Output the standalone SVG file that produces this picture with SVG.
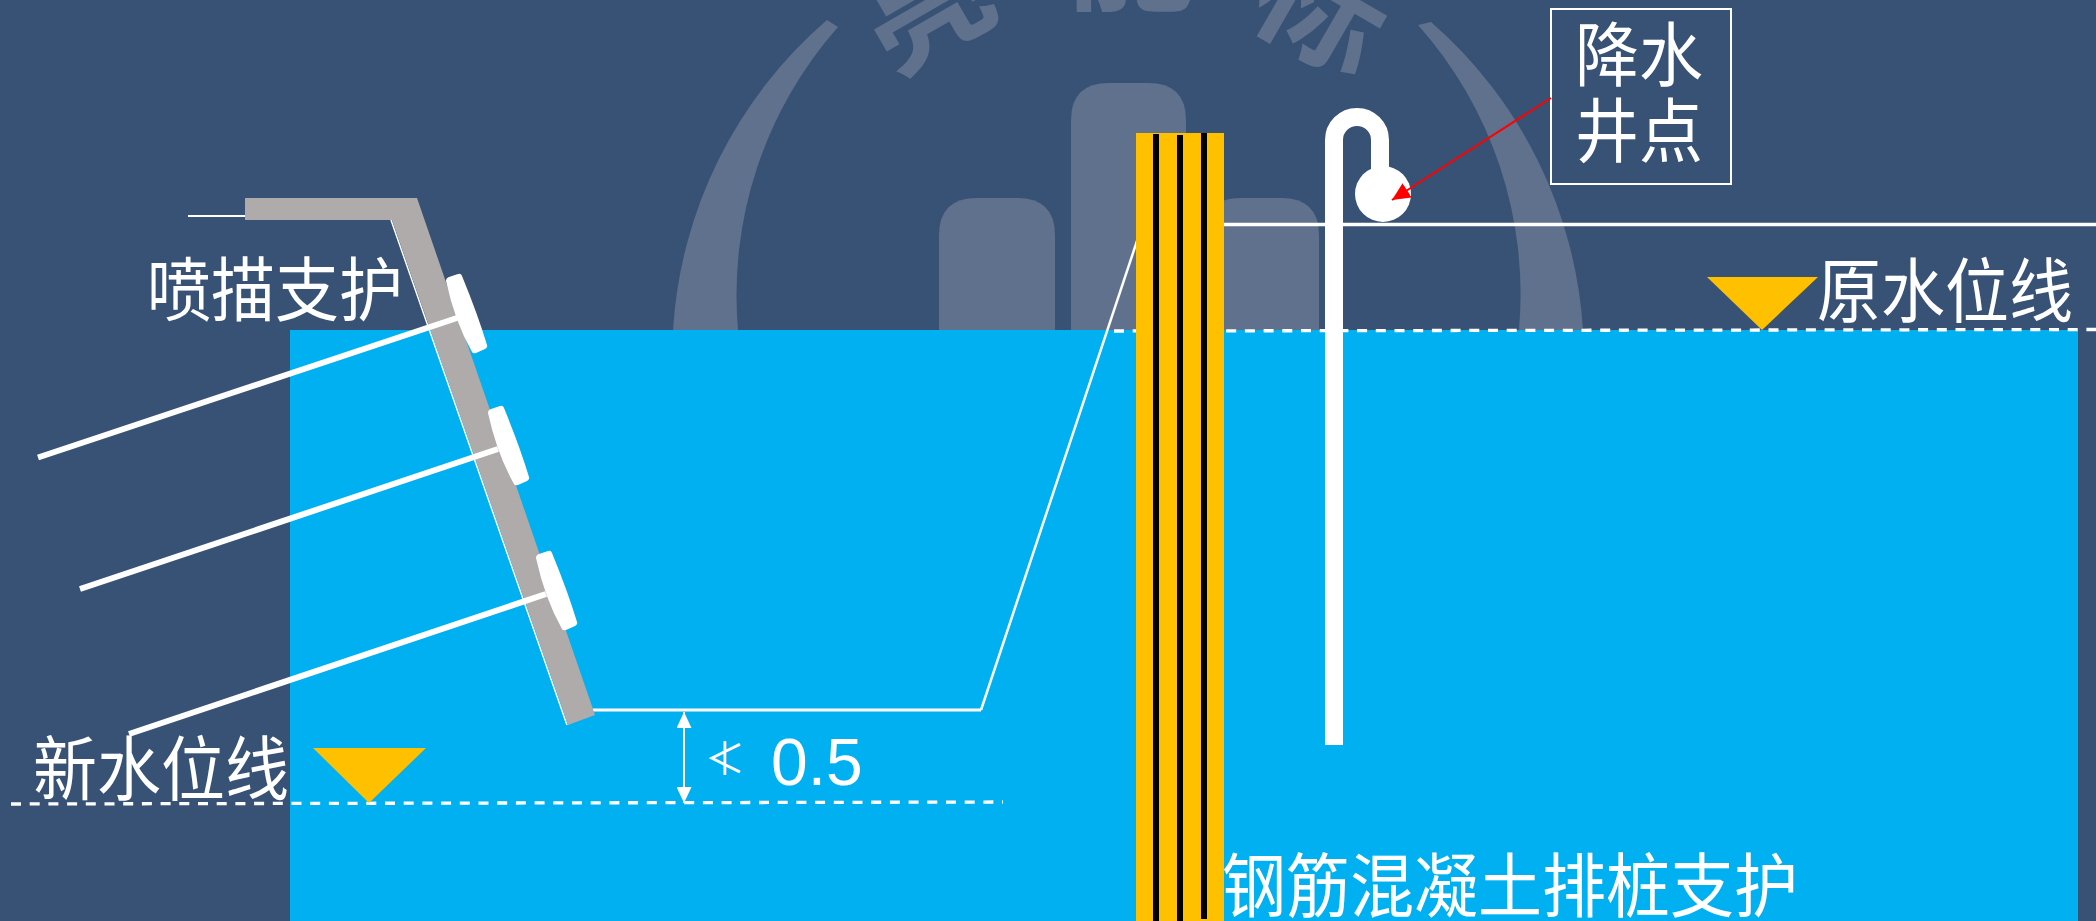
<svg xmlns="http://www.w3.org/2000/svg" width="2096" height="921" viewBox="0 0 2096 921">
<style>
.t{font-family:"Noto Sans CJK SC","Noto Sans",sans-serif;font-size:64px;fill:#fff}
.n{font-family:"Liberation Sans",Arial,sans-serif;font-size:66px;fill:#fff}
.s{font-family:"Noto Sans CJK SC",sans-serif;font-size:40px;fill:#fff}
.wm{fill:#5f718c}
.w{stroke:#fff;fill:none}
.dash{stroke:#fff;stroke-width:3.300;stroke-dasharray:10 8.700;fill:none}
.anchor{stroke:#fff;stroke-width:6;fill:none}
.plate{fill:#fff}
.wt{font-family:"Noto Sans CJK SC",sans-serif;font-size:130px;font-weight:700;fill:#5f718c}
</style>
<defs>
<marker id="dimHead" viewBox="0 0 16 15" refX="16" refY="7.500" markerWidth="16" markerHeight="15" markerUnits="userSpaceOnUse" orient="auto-start-reverse"><path d="M0 0L16 7.500L0 15Z" fill="#fff"/></marker>
<marker id="redHead" viewBox="0 0 18 17" refX="18" refY="8.500" markerWidth="18" markerHeight="17" markerUnits="userSpaceOnUse" orient="auto"><path d="M0 0L18 8.500L0 17Z" fill="#f00"/></marker>
<path id="plateShape" d="M446 281Q446 278 449 277L458 274Q461 273 462 276Q478 315 487 345Q488 347 485 349L476 353Q473 354 472 352Q455 322 446 281Z"/>
</defs>
<rect width="2096" height="921" fill="#385275"/>
<g id="watermark">
<path class="wm" d="M939 330V235Q939 198 977 198H1017Q1055 198 1055 235V330Z"/>
<path class="wm" d="M1071 330V120Q1071 83 1109 83H1148Q1186 83 1186 120V330Z"/>
<path class="wm" d="M1203 330V235Q1203 198 1241 198H1281Q1319 198 1319 235V330Z"/>
<path class="wm" d="M673 330A445 445 0 0 1 827 20L838 27A405 405 0 0 0 738 330Z"/>
<path class="wm" d="M1583 330A445 445 0 0 0 1431 22L1418 25A405 405 0 0 1 1519 330Z"/>
<text class="wt" transform="translate(892 76) rotate(-30)">亮</text>
<text class="wt" transform="translate(1065 0)">能</text>
<text class="wt" transform="translate(1243 15) rotate(30)">标</text>
</g>
<rect id="water" x="290" y="330" width="1788" height="591" fill="#00b0f0"/>
<g id="connectors">
<path class="w" stroke-width="2" d="M188 216H245"/>
<path class="w" stroke-width="1.500" d="M391 220L567 725"/>
<path class="w" stroke-width="3" d="M593 710H981"/>
<path class="w" stroke-width="2.500" d="M981 710L1138 238"/>
<path class="w" stroke-width="3.500" d="M1224 224.500H2096"/>
<path class="dash" d="M11 804L1003 802"/>
<path class="dash" d="M1114 331L2096 329.500"/>
<path class="w" stroke-width="2" d="M684 803V712" marker-start="url(#dimHead)" marker-end="url(#dimHead)"/>
</g>
<g id="shotcrete-support">
<path fill="#afabab" d="M245 198H417L595 715L568 725L392 220H245Z"/>
<use href="#plateShape" class="plate"/>
<use href="#plateShape" class="plate" x="42" y="132"/>
<use href="#plateShape" class="plate" x="90" y="277"/>
<path class="anchor" d="M38 457.500L457 318"/>
<path class="anchor" d="M80 589L498 449"/>
<path class="anchor" d="M129 734L546 594"/>
<text class="t" transform="translate(147 316) scale(1 1.100)">喷描支护</text>
</g>
<g id="pile-wall">
<rect x="1136" y="133" width="88" height="788" fill="#ffc000"/>
<rect x="1153" y="134" width="6" height="787" fill="#000"/>
<rect x="1177" y="135" width="6" height="786" fill="#000"/>
<rect x="1201" y="133" width="6" height="786" fill="#000"/>
<text class="t" transform="translate(1222 912) scale(1 1.100)">钢筋混凝土排桩支护</text>
</g>
<g id="well">
<path class="w" stroke-width="18" d="M1334 745V140A23 23 0 0 1 1380 140V172"/>
<circle cx="1383" cy="194" r="28" fill="#fff"/>
</g>
<g id="well-label">
<rect x="1551" y="9" width="180" height="175" fill="none" stroke="#fff" stroke-width="2"/>
<text class="t" transform="translate(1575 81) scale(1 1.100)">降水</text>
<text class="t" transform="translate(1575 157) scale(1 1.100)">井点</text>
<path d="M1551 98L1392 200" stroke="#f00" stroke-width="2" fill="none" marker-end="url(#redHead)"/>
</g>
<g id="old-water-level">
<path fill="#ffc000" d="M1707 277H1818L1762 330Z"/>
<text class="t" transform="translate(1817 317) scale(1 1.100)">原水位线</text>
</g>
<g id="new-water-level">
<path fill="#ffc000" d="M313 748H426L369 803Z"/>
<text class="t" transform="translate(33 795) scale(1 1.100)">新水位线</text>
</g>
<g id="dimension">
<text class="s" x="705" y="773">≮</text>
<text class="n" x="771" y="785">0.5</text>
</g>
</svg>
